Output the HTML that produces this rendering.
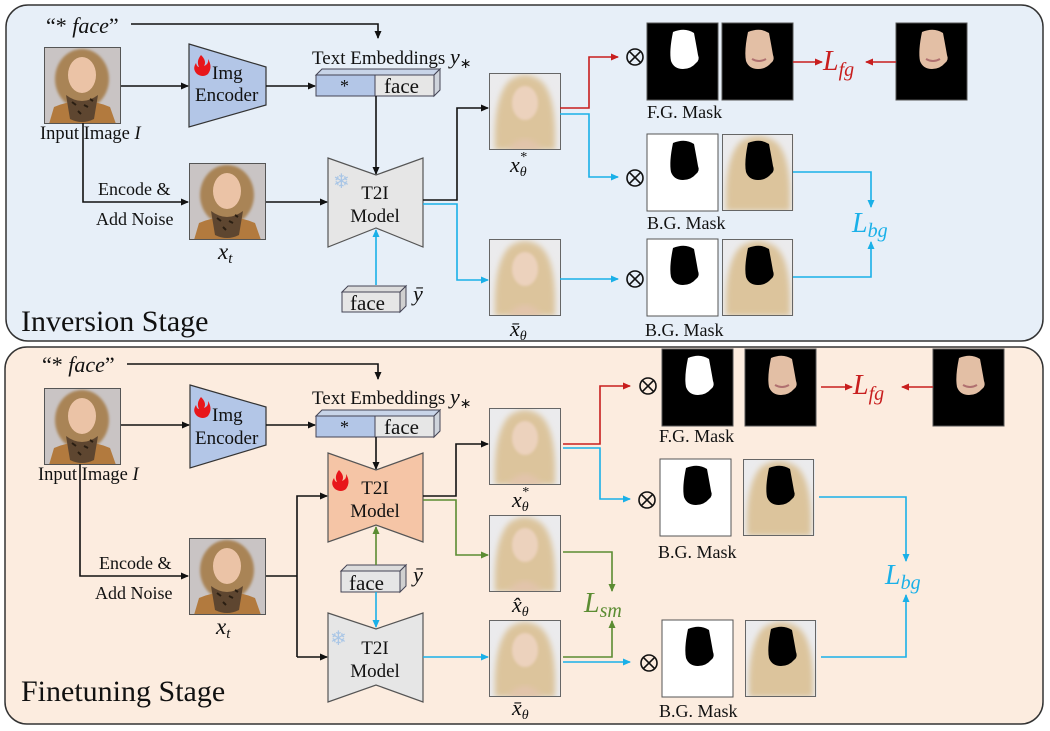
<!DOCTYPE html>
<html><head><meta charset="utf-8"><style>
html,body{margin:0;padding:0;background:#fff;}
svg{display:block;}
text{font-family:"Liberation Serif",serif;fill:#111;}
.i{font-style:italic;}
</style></head><body>
<svg width="1050" height="731" viewBox="0 0 1050 731" xmlns="http://www.w3.org/2000/svg">
<defs>
<marker id="ak" markerWidth="8" markerHeight="8" refX="7" refY="4" orient="auto" markerUnits="userSpaceOnUse"><path d="M0,0.5 L8,4 L0,7.5 Z" fill="#111"/></marker>
<marker id="ar" markerWidth="8" markerHeight="8" refX="7" refY="4" orient="auto" markerUnits="userSpaceOnUse"><path d="M0,0.5 L8,4 L0,7.5 Z" fill="#c81e1e"/></marker>
<marker id="ab" markerWidth="8" markerHeight="8" refX="7" refY="4" orient="auto" markerUnits="userSpaceOnUse"><path d="M0,0.5 L8,4 L0,7.5 Z" fill="#1ab0e8"/></marker>
<marker id="ag" markerWidth="8" markerHeight="8" refX="7" refY="4" orient="auto" markerUnits="userSpaceOnUse"><path d="M0,0.5 L8,4 L0,7.5 Z" fill="#5b8c32"/></marker>
<filter id="bl" x="-20%" y="-20%" width="140%" height="140%"><feGaussianBlur stdDeviation="3"/></filter>
<filter id="bl2" x="-20%" y="-20%" width="140%" height="140%"><feGaussianBlur stdDeviation="1.2"/></filter>
<clipPath id="c77"><rect width="77" height="77"/></clipPath>
<clipPath id="c72"><rect width="72" height="77"/></clipPath>
<g id="photo">
<g clip-path="url(#c77)">
<rect width="77" height="77" fill="#c9c4c4"/>
<ellipse cx="38" cy="32" rx="27" ry="30" fill="#a98456" filter="url(#bl2)"/>
<path d="M5,77 L10,60 Q38,48 66,60 L72,77 Z" fill="#b27a3e"/>
<ellipse cx="38" cy="28" rx="14" ry="18" fill="#ebc3a6"/>
<path d="M22,48 Q38,60 54,48 L50,72 Q38,78 26,72 Z" fill="#5e4630"/>
<path d="M28,55 l4,3 M40,58 l4,2 M34,64 l3,3 M46,52 l3,2" stroke="#2a1e12" stroke-width="2"/>
</g>
<rect x="0.5" y="0.5" width="76" height="76" fill="none" stroke="#555"/>
</g>
<g id="blond">
<g clip-path="url(#c72)">
<rect width="72" height="77" fill="#ebebed"/>
<path d="M6,77 Q4,25 20,8 Q36,-4 52,8 Q68,22 66,77 Z" fill="#dcc49c" filter="url(#bl)"/>
<ellipse cx="36" cy="30" rx="13" ry="17" fill="#ecd2bd" filter="url(#bl2)"/>
<path d="M18,77 Q36,55 54,77 Z" fill="#e2c4ab" filter="url(#bl)"/>
</g>
<rect x="0.5" y="0.5" width="71" height="76" fill="none" stroke="#666"/>
</g>
<g id="fgm">
<rect width="71" height="77" fill="#000" stroke="#555"/>
<path d="M26,9 Q38,4 47,10 Q50,26 51,32 Q53,37 49,40 Q44,46 36,46 Q27,46 24,38 Q22,28 26,9 Z" fill="#fff"/>
</g>
<g id="fgi">
<rect width="71" height="77" fill="#000" stroke="#555"/>
<path d="M26,9 Q38,4 47,10 Q50,26 51,32 Q53,37 49,40 Q44,46 36,46 Q27,46 24,38 Q22,28 26,9 Z" fill="#e3bfa5"/>
<path d="M30,36 Q37,40 44,36" stroke="#b07070" stroke-width="2" fill="none"/>
</g>
<g id="bgm">
<rect width="71" height="77" fill="#fff" stroke="#555"/>
<path d="M26,9 Q38,4 47,10 Q50,26 51,32 Q53,37 49,40 Q44,46 36,46 Q27,46 24,38 Q22,28 26,9 Z" fill="#000"/>
</g>
<g id="bgi">
<g clip-path="url(#c72)">
<rect width="72" height="77" fill="#ebebed"/>
<path d="M4,77 Q2,25 18,8 Q36,-4 54,8 Q70,22 68,77 Z" fill="#dcc49c" filter="url(#bl)"/>
</g>
<path d="M26,9 Q38,4 47,10 Q50,26 51,32 Q53,37 49,40 Q44,46 36,46 Q27,46 24,38 Q22,28 26,9 Z" fill="#000"/>
<rect x="0.5" y="0.5" width="70" height="76" fill="none" stroke="#666"/>
</g>
<g id="otimes"><circle r="8" fill="none" stroke="#111" stroke-width="1.6"/><path d="M-5.6,-5.6 L5.6,5.6 M5.6,-5.6 L-5.6,5.6" stroke="#111" stroke-width="1.6"/></g>
<g id="fire"><path d="M8,0 Q14,6 11,11 Q16,9 15,4 Q20,12 15,19 Q10,23 4,19 Q-1,14 3,8 Q4,12 6,12 Q3,6 8,0 Z" fill="#e8161a"/></g>
</defs>

<!-- ========== TOP PANEL ========== -->
<rect x="6" y="5" width="1037" height="336" rx="22" fill="#e7eff8" stroke="#333" stroke-width="1.5"/>
<text x="46" y="33" font-size="22"><tspan>“* </tspan><tspan class="i">face</tspan><tspan>”</tspan></text>
<polyline points="131,24 378,24 378,38" fill="none" stroke="#111" stroke-width="1.6" marker-end="url(#ak)"/>
<use href="#photo" x="44" y="47"/>
<text x="40" y="139" font-size="18.5">Input Image <tspan class="i">I</tspan></text>
<line x1="121" y1="86" x2="188" y2="86" stroke="#111" stroke-width="1.6" marker-end="url(#ak)"/>
<polygon points="189,44 266,67 266,105 189,127" fill="#b3c6e7" stroke="#333" stroke-width="1.2"/>
<use href="#fire" x="193" y="55"/>
<text x="212" y="79" font-size="19">Img</text>
<text x="195" y="101" font-size="19">Encoder</text>
<line x1="266" y1="86" x2="315" y2="86" stroke="#111" stroke-width="1.6" marker-end="url(#ak)"/>
<text x="312" y="64" font-size="19">Text Embeddings <tspan class="i" font-size="22">y</tspan><tspan font-size="14" dy="4">∗</tspan></text>
<polygon points="316,75 322,69 440,69 434,75" fill="#c8d4e8" stroke="#445" stroke-width="1"/>
<polygon points="434,75 440,69 440,90 434,96" fill="#cfd4dc" stroke="#445" stroke-width="1"/>
<rect x="316" y="75" width="59" height="21" fill="#b3c6e7" stroke="#445" stroke-width="1"/>
<rect x="375" y="75" width="59" height="21" fill="#e6e6e6" stroke="#445" stroke-width="1"/>
<text x="340" y="92" font-size="18">*</text>
<text x="384" y="93" font-size="21">face</text>
<line x1="376" y1="96" x2="376" y2="174" stroke="#111" stroke-width="1.6" marker-end="url(#ak)"/>
<polygon points="328,158 376,175 423,158 423,247 376,228 328,247" fill="#e6e6e6" stroke="#555" stroke-width="1.2"/>
<text x="333" y="188" font-size="20" style="fill:#a9c6e6">❄</text>
<text x="375" y="199" font-size="19" text-anchor="middle">T2I</text>
<text x="375" y="222" font-size="19" text-anchor="middle">Model</text>
<use href="#photo" x="189" y="163"/>
<text x="218" y="259" font-size="23" class="i">x<tspan font-size="15" dy="4">t</tspan></text>
<polyline points="83,123 83,202 188,202" fill="none" stroke="#111" stroke-width="1.6" marker-end="url(#ak)"/>
<text x="98" y="195" font-size="18">Encode &amp;</text>
<text x="96" y="225" font-size="18">Add Noise</text>
<line x1="266" y1="202" x2="327" y2="202" stroke="#111" stroke-width="1.6" marker-end="url(#ak)"/>
<polyline points="423,200 457,200 457,108 488,108" fill="none" stroke="#111" stroke-width="1.6" marker-end="url(#ak)"/>
<polyline points="423,204 457,204 457,280 488,280" fill="none" stroke="#1ab0e8" stroke-width="1.6" marker-end="url(#ab)"/>
<polygon points="342,292 348,286 406,286 400,292" fill="#dcdcdc" stroke="#445" stroke-width="1"/>
<polygon points="400,292 406,286 406,306 400,312" fill="#d0d0d0" stroke="#445" stroke-width="1"/>
<rect x="342" y="292" width="58" height="20" fill="#e6e6e6" stroke="#445" stroke-width="1"/>
<text x="350" y="310" font-size="21">face</text>
<text x="413" y="301" font-size="22" class="i">ȳ</text>
<line x1="376" y1="285" x2="376" y2="230" stroke="#1ab0e8" stroke-width="1.6" marker-end="url(#ab)"/>
<use href="#blond" x="489" y="73"/>
<text x="510" y="172" font-size="22" class="i">x<tspan font-size="14" dy="4">θ</tspan><tspan font-size="14" dx="-7" dy="-15">*</tspan></text>
<use href="#blond" x="489" y="239"/>
<text x="510" y="336" font-size="22" class="i">x̄<tspan font-size="14" dy="4">θ</tspan></text>
<polyline points="560,108 589,108 589,57 618,57" fill="none" stroke="#c81e1e" stroke-width="1.6" marker-end="url(#ar)"/>
<polyline points="560,114 589,114 589,177 618,177" fill="none" stroke="#1ab0e8" stroke-width="1.6" marker-end="url(#ab)"/>
<line x1="560" y1="279" x2="618" y2="279" stroke="#1ab0e8" stroke-width="1.6" marker-end="url(#ab)"/>
<use href="#otimes" x="635" y="57"/>
<use href="#otimes" x="635" y="178"/>
<use href="#otimes" x="635" y="279"/>
<use href="#fgm" x="647" y="23"/>
<use href="#fgi" x="722" y="23"/>
<text x="647" y="118" font-size="18">F.G. Mask</text>
<use href="#bgm" x="647" y="134"/>
<use href="#bgi" x="722" y="134"/>
<text x="647" y="229" font-size="18">B.G. Mask</text>
<use href="#bgm" x="647" y="239"/>
<use href="#bgi" x="722" y="239"/>
<text x="645" y="336" font-size="18">B.G. Mask</text>
<line x1="793" y1="62" x2="822" y2="62" stroke="#c81e1e" stroke-width="1.6" marker-end="url(#ar)"/>
<text x="823" y="70" font-size="28" class="i" style="fill:#c81e1e">L<tspan font-size="20" dy="6">fg</tspan></text>
<use href="#fgi" x="896" y="23"/>
<line x1="896" y1="62" x2="866" y2="62" stroke="#c81e1e" stroke-width="1.6" marker-end="url(#ar)"/>
<polyline points="793,172 871,172 871,207" fill="none" stroke="#1ab0e8" stroke-width="1.6" marker-end="url(#ab)"/>
<polyline points="793,277 871,277 871,242" fill="none" stroke="#1ab0e8" stroke-width="1.6" marker-end="url(#ab)"/>
<text x="852" y="232" font-size="28" class="i" style="fill:#1ab0e8">L<tspan font-size="20" dy="5">bg</tspan></text>
<text x="21" y="331" font-size="30">Inversion Stage</text>

<!-- ========== BOTTOM PANEL ========== -->
<rect x="5" y="347" width="1038" height="377" rx="22" fill="#fcecdf" stroke="#333" stroke-width="1.5"/>
<text x="42" y="372" font-size="22"><tspan>“* </tspan><tspan class="i">face</tspan><tspan>”</tspan></text>
<polyline points="127,364 378,364 378,379" fill="none" stroke="#111" stroke-width="1.6" marker-end="url(#ak)"/>
<use href="#photo" x="44" y="388"/>
<text x="38" y="480" font-size="18.5">Input Image <tspan class="i">I</tspan></text>
<line x1="121" y1="425" x2="189" y2="425" stroke="#111" stroke-width="1.6" marker-end="url(#ak)"/>
<polygon points="190,385 266,407 266,445 190,468" fill="#b3c6e7" stroke="#333" stroke-width="1.2"/>
<use href="#fire" x="193" y="397"/>
<text x="212" y="421" font-size="19">Img</text>
<text x="195" y="444" font-size="19">Encoder</text>
<line x1="266" y1="425" x2="315" y2="425" stroke="#111" stroke-width="1.6" marker-end="url(#ak)"/>
<text x="312" y="404" font-size="19">Text Embeddings <tspan class="i" font-size="22">y</tspan><tspan font-size="14" dy="4">∗</tspan></text>
<polygon points="316,416 322,410 440,410 434,416" fill="#c8d4e8" stroke="#445" stroke-width="1"/>
<polygon points="434,416 440,410 440,431 434,437" fill="#cfd4dc" stroke="#445" stroke-width="1"/>
<rect x="316" y="416" width="59" height="21" fill="#b3c6e7" stroke="#445" stroke-width="1"/>
<rect x="375" y="416" width="59" height="21" fill="#e6e6e6" stroke="#445" stroke-width="1"/>
<text x="340" y="433" font-size="18">*</text>
<text x="384" y="434" font-size="21">face</text>
<line x1="376" y1="437" x2="376" y2="469" stroke="#111" stroke-width="1.6" marker-end="url(#ak)"/>
<polygon points="328,453 376,470 423,453 423,542 376,525 328,542" fill="#f5c5a6" stroke="#555" stroke-width="1.2"/>
<use href="#fire" x="331" y="470"/>
<text x="375" y="494" font-size="19" text-anchor="middle">T2I</text>
<text x="375" y="517" font-size="19" text-anchor="middle">Model</text>
<polygon points="341,571 347,565 406,565 400,571" fill="#dcdcdc" stroke="#445" stroke-width="1"/>
<polygon points="400,571 406,565 406,586 400,592" fill="#d0d0d0" stroke="#445" stroke-width="1"/>
<rect x="341" y="571" width="59" height="21" fill="#e6e6e6" stroke="#445" stroke-width="1"/>
<text x="349" y="590" font-size="21">face</text>
<text x="413" y="582" font-size="22" class="i">ȳ</text>
<line x1="376" y1="565" x2="376" y2="527" stroke="#5b8c32" stroke-width="1.6" marker-end="url(#ag)"/>
<line x1="376" y1="592" x2="376" y2="627" stroke="#1ab0e8" stroke-width="1.6" marker-end="url(#ab)"/>
<polygon points="328,613 376,629 423,613 423,702 376,685 328,702" fill="#e6e6e6" stroke="#555" stroke-width="1.2"/>
<text x="330" y="645" font-size="20" style="fill:#a9c6e6">❄</text>
<text x="375" y="654" font-size="19" text-anchor="middle">T2I</text>
<text x="375" y="677" font-size="19" text-anchor="middle">Model</text>
<use href="#photo" x="189" y="538"/>
<text x="216" y="634" font-size="23" class="i">x<tspan font-size="15" dy="4">t</tspan></text>
<polyline points="80,464 80,576 188,576" fill="none" stroke="#111" stroke-width="1.6" marker-end="url(#ak)"/>
<text x="99" y="569" font-size="18">Encode &amp;</text>
<text x="95" y="599" font-size="18">Add Noise</text>
<line x1="266" y1="576" x2="297" y2="576" stroke="#111" stroke-width="1.6"/>
<polyline points="297,657 297,496 327,496" fill="none" stroke="#111" stroke-width="1.6" marker-end="url(#ak)"/>
<line x1="297" y1="657" x2="327" y2="657" stroke="#111" stroke-width="1.6" marker-end="url(#ak)"/>
<polyline points="423,496 456,496 456,444 488,444" fill="none" stroke="#111" stroke-width="1.6" marker-end="url(#ak)"/>
<polyline points="423,500 456,500 456,555 488,555" fill="none" stroke="#5b8c32" stroke-width="1.6" marker-end="url(#ag)"/>
<line x1="423" y1="657" x2="488" y2="657" stroke="#1ab0e8" stroke-width="1.6" marker-end="url(#ab)"/>
<use href="#blond" x="489" y="408"/>
<text x="512" y="507" font-size="22" class="i">x<tspan font-size="14" dy="4">θ</tspan><tspan font-size="14" dx="-7" dy="-15">*</tspan></text>
<use href="#blond" x="489" y="515"/>
<text x="512" y="612" font-size="22" class="i">x̂<tspan font-size="14" dy="4">θ</tspan></text>
<use href="#blond" x="489" y="620"/>
<text x="512" y="715" font-size="22" class="i">x̄<tspan font-size="14" dy="4">θ</tspan></text>
<polyline points="563,444 600,444 600,386 630,386" fill="none" stroke="#c81e1e" stroke-width="1.6" marker-end="url(#ar)"/>
<polyline points="563,448 600,448 600,499 630,499" fill="none" stroke="#1ab0e8" stroke-width="1.6" marker-end="url(#ab)"/>
<polyline points="563,552 612,552 612,591" fill="none" stroke="#5b8c32" stroke-width="1.6" marker-end="url(#ag)"/>
<polyline points="563,657 612,657 612,621" fill="none" stroke="#5b8c32" stroke-width="1.6" marker-end="url(#ag)"/>
<line x1="563" y1="662" x2="630" y2="662" stroke="#1ab0e8" stroke-width="1.6" marker-end="url(#ab)"/>
<text x="584" y="612" font-size="28" class="i" style="fill:#5b8c32">L<tspan font-size="20" dy="5">sm</tspan></text>
<use href="#otimes" x="648" y="386"/>
<use href="#otimes" x="647" y="500"/>
<use href="#otimes" x="649" y="663"/>
<use href="#fgm" x="662" y="349"/>
<use href="#fgi" x="745" y="349"/>
<text x="659" y="442" font-size="18">F.G. Mask</text>
<use href="#bgm" x="660" y="459"/>
<use href="#bgi" x="743" y="459"/>
<text x="658" y="558" font-size="18">B.G. Mask</text>
<use href="#bgm" x="662" y="620"/>
<use href="#bgi" x="745" y="620"/>
<text x="659" y="717" font-size="18">B.G. Mask</text>
<line x1="821" y1="387" x2="852" y2="387" stroke="#c81e1e" stroke-width="1.6" marker-end="url(#ar)"/>
<text x="853" y="394" font-size="28" class="i" style="fill:#c81e1e">L<tspan font-size="20" dy="6">fg</tspan></text>
<use href="#fgi" x="933" y="349"/>
<line x1="933" y1="387" x2="902" y2="387" stroke="#c81e1e" stroke-width="1.6" marker-end="url(#ar)"/>
<polyline points="819,497 906,497 906,561" fill="none" stroke="#1ab0e8" stroke-width="1.6" marker-end="url(#ab)"/>
<polyline points="821,657 906,657 906,595" fill="none" stroke="#1ab0e8" stroke-width="1.6" marker-end="url(#ab)"/>
<text x="885" y="584" font-size="28" class="i" style="fill:#1ab0e8">L<tspan font-size="20" dy="5">bg</tspan></text>
<text x="21" y="701" font-size="30">Finetuning Stage</text>
</svg>
</body></html>
